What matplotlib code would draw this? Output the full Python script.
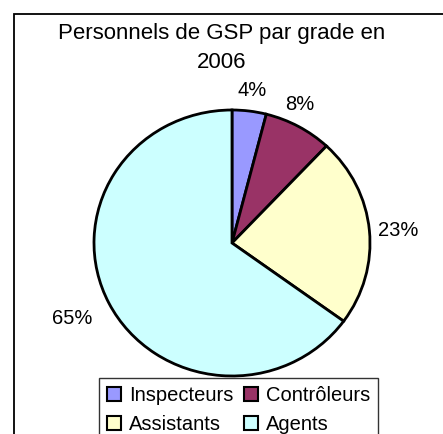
import matplotlib
matplotlib.use("Agg")
import matplotlib.pyplot as plt
from matplotlib.patches import Patch, Rectangle

categories = ["Inspecteurs", "Contrôleurs", "Assistants", "Agents"]
values = [4, 8, 23, 65]
colors = ["#9999FF", "#993366", "#FFFFCC", "#CCFFFF"]
title = "Personnels de GSP par grade en\n2006"

plt.rcParams['font.family'] = ['Liberation Sans', 'DejaVu Sans']

W, H = 443, 434
fig = plt.figure(figsize=(W / 100, H / 100), dpi=100)

# outer chart frame (clipped on right and bottom like the reference)
fig.patches.append(Rectangle((14 / W, -0.1), 1.2, 1 - 14 / H + 0.1,
                             transform=fig.transFigure, fill=False,
                             edgecolor="black", linewidth=1.3))

cx, cy, rx, ry = 232, 243, 138, 133
ax = fig.add_axes([(cx - rx) / W, (H - cy - ry) / H, 2 * rx / W, 2 * ry / H])

wedges, _ = ax.pie(values, colors=colors, startangle=90, counterclock=False,
                   radius=1, wedgeprops=dict(edgecolor="black", linewidth=2.0))
ax.set_aspect('auto')
ax.set_xlim(-1, 1)
ax.set_ylim(-1, 1)
ax.axis('off')
for w in wedges:
    w.set_clip_on(False)

# percentage labels (placed like Excel's best-fit)
label_pos = [(252, 91), (300, 105), (398, 231), (72, 318)]
for v, (px, py) in zip(values, label_pos):
    fig.text(px / W, 1 - py / H, f"{v}%", ha="center", va="center", fontsize=14.5)

fig.text(222 / W, 1 - 48 / H, title, ha="center", va="center", fontsize=16,
         linespacing=1.45)

handles = [Patch(facecolor=c, edgecolor="black", linewidth=1.5) for c in colors]
order = [0, 2, 1, 3]
leg = fig.legend([handles[i] for i in order], [categories[i] for i in order],
                 ncol=2, loc="upper left",
                 bbox_to_anchor=(99 / W, 1 - 378 / H), fontsize=14.5,
                 frameon=True, fancybox=False, edgecolor="black",
                 handlelength=0.7, handleheight=0.7, handletextpad=0.4,
                 columnspacing=0.5, borderpad=0.4, labelspacing=0.5,
                 borderaxespad=0)
leg.get_frame().set_linewidth(1.0)

fig.savefig("out.png", dpi=100, facecolor="white")
